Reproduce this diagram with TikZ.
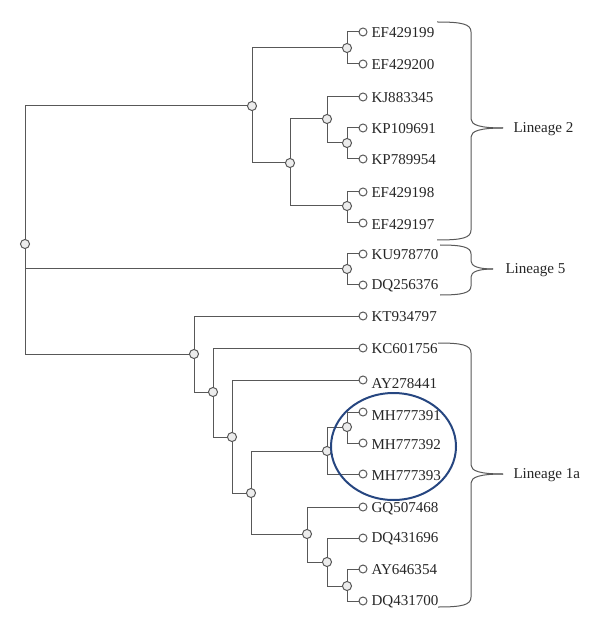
\documentclass[tikz,border=0pt]{standalone}
\usepackage{fontspec}
\setmainfont{Liberation Serif}
\definecolor{treegray}{RGB}{88,88,88}
\definecolor{ringblue}{RGB}{38,70,128}
\tikzset{every picture/.style={line width=0.75pt}}
\tikzset{
  inner/.style={circle,draw=treegray,fill=gray!15,inner sep=0pt,minimum size=6.8pt},
  tip/.style={circle,draw=treegray,fill=white,inner sep=0pt,minimum size=6pt},
  acc/.style={anchor=west,inner sep=0pt,text=black!85,font=\fontsize{11.3}{13}\selectfont},
  branch/.style={draw=treegray},
}
\begin{document}
\begin{tikzpicture}[x=0.75pt,y=0.75pt,yscale=-1,xscale=1]
	\useasboundingbox (0,0) rectangle (600,630);

	% Internal nodes
	\node[inner] (root) at (25,244) {};
	\node[inner] (nf) at (252,106) {};
	\node[inner] (na) at (347,48) {};
	\node[inner] (ne) at (290,163) {};
	\node[inner] (nc) at (327,119) {};
	\node[inner] (nb) at (347,143) {};
	\node[inner] (nd) at (347,206) {};
	\node[inner] (ng) at (347,269) {};
	\node[inner] (nh) at (194,354) {};
	\node[inner] (ni) at (213,392) {};
	\node[inner] (nj) at (232,437) {};
	\node[inner] (nk) at (251,493) {};
	\node[inner] (nl) at (327,451) {};
	\node[inner] (nm) at (347,427) {};
	\node[inner] (nn) at (307,534) {};
	\node[inner] (no) at (327,562) {};
	\node[inner] (np) at (347,586) {};

	% Tip nodes
	\node[tip] (ef199) at (363,32) {};
	\node[tip] (ef200) at (363,64) {};
	\node[tip] (kj345) at (363,97) {};
	\node[tip] (kp691) at (363,128) {};
	\node[tip] (kp954) at (363,159) {};
	\node[tip] (ef198) at (363,192) {};
	\node[tip] (ef197) at (363,223) {};
	\node[tip] (ku770) at (363,254) {};
	\node[tip] (dq376) at (363,285) {};
	\node[tip] (kt797) at (363,316) {};
	\node[tip] (kc756) at (363,348) {};
	\node[tip] (ay441) at (363,380) {};
	\node[tip] (mh391) at (363,412) {};
	\node[tip] (mh392) at (363,443) {};
	\node[tip] (mh393) at (363,474) {};
	\node[tip] (gq468) at (363,507) {};
	\node[tip] (dq696) at (363,538) {};
	\node[tip] (ay354) at (363,569) {};
	\node[tip] (dq700) at (363,601) {};

	% Accession labels
	\node[acc] (t199) at (371,33) {EF429199};
	\node[acc] (t200) at (371,65) {EF429200};
	\node[acc] (t345) at (371,98) {KJ883345};
	\node[acc] (t691) at (371,129) {KP109691};
	\node[acc] (t954) at (371,160) {KP789954};
	\node[acc] (t198) at (371,193) {EF429198};
	\node[acc] (t197) at (371,225) {EF429197};
	\node[acc] (t770) at (371,255) {KU978770};
	\node[acc] (t376) at (371,286) {DQ256376};
	\node[acc] (t797) at (371,317) {KT934797};
	\node[acc] (t756) at (371,349) {KC601756};
	\node[acc] (t441) at (371,384) {AY278441};
	\node[acc] (t391) at (371,416) {MH777391};
	\node[acc] (t392) at (371,445) {MH777392};
	\node[acc] (t393) at (371,476) {MH777393};
	\node[acc] (t468) at (371,509) {GQ507468};
	\node[acc] (t696) at (371,539) {DQ431696};
	\node[acc] (t354) at (371,570) {AY646354};
	\node[acc] (t700) at (371,602) {DQ431700};

	% Branches
	\draw[branch] (root) |- (nf);
	\draw[branch] (root) |- (ng);
	\draw[branch] (root) |- (nh);
	\draw[branch] (nf) |- (na);
	\draw[branch] (nf) |- (ne);
	\draw[branch] (na) |- (ef199);
	\draw[branch] (na) |- (ef200);
	\draw[branch] (ne) |- (nc);
	\draw[branch] (ne) |- (nd);
	\draw[branch] (nc) |- (kj345);
	\draw[branch] (nc) |- (nb);
	\draw[branch] (nb) |- (kp691);
	\draw[branch] (nb) |- (kp954);
	\draw[branch] (nd) |- (ef198);
	\draw[branch] (nd) |- (ef197);
	\draw[branch] (ng) |- (ku770);
	\draw[branch] (ng) |- (dq376);
	\draw[branch] (nh) |- (kt797);
	\draw[branch] (nh) |- (ni);
	\draw[branch] (ni) |- (kc756);
	\draw[branch] (ni) |- (nj);
	\draw[branch] (nj) |- (ay441);
	\draw[branch] (nj) |- (nk);
	\draw[branch] (nk) |- (nl);
	\draw[branch] (nk) |- (nn);
	\draw[branch] (nl) |- (nm);
	\draw[branch] (nl) |- (mh393);
	\draw[branch] (nm) |- (mh391);
	\draw[branch] (nm) |- (mh392);
	\draw[branch] (nn) |- (gq468);
	\draw[branch] (nn) |- (no);
	\draw[branch] (no) |- (dq696);
	\draw[branch] (no) |- (np);
	\draw[branch] (np) |- (ay354);
	\draw[branch] (np) |- (dq700);

	% Braces
	\draw[branch] (437,22) .. controls (462,22) and (471,24) .. (471,32) -- (471,119) .. controls (471,125) and (480,128) .. (503,128) ;
	\draw[branch] (437,240) .. controls (462,240) and (471,238) .. (471,230) -- (471,137) .. controls (471,131) and (480,128) .. (503,128) ;
	\draw[branch] (440,245) .. controls (462,245) and (471,247) .. (471,254) -- (471,261) .. controls (471,266) and (478,269) .. (493,269) ;
	\draw[branch] (440,295) .. controls (462,295) and (471,293) .. (471,286) -- (471,277) .. controls (471,272) and (478,269) .. (493,269) ;
	\draw[branch] (438,343) .. controls (462,343) and (471,345) .. (471,353) -- (471,465) .. controls (471,471) and (480,474) .. (503,474) ;
	\draw[branch] (438,607) .. controls (462,607) and (471,605) .. (471,597) -- (471,483) .. controls (471,477) and (480,474) .. (503,474) ;

	% Lineage labels
	\node[acc] (lin2) at (513,129) {Lineage 2};
	\node[acc] (lin5) at (505,270) {Lineage 5};
	\node[acc] (lin1a) at (513,475) {Lineage 1a};

	% Highlight ring
	\draw[ringblue,line width=1.5pt] (393.5,446.5) ellipse [x radius=62.5, y radius=53.5];

\end{tikzpicture}
\end{document}
